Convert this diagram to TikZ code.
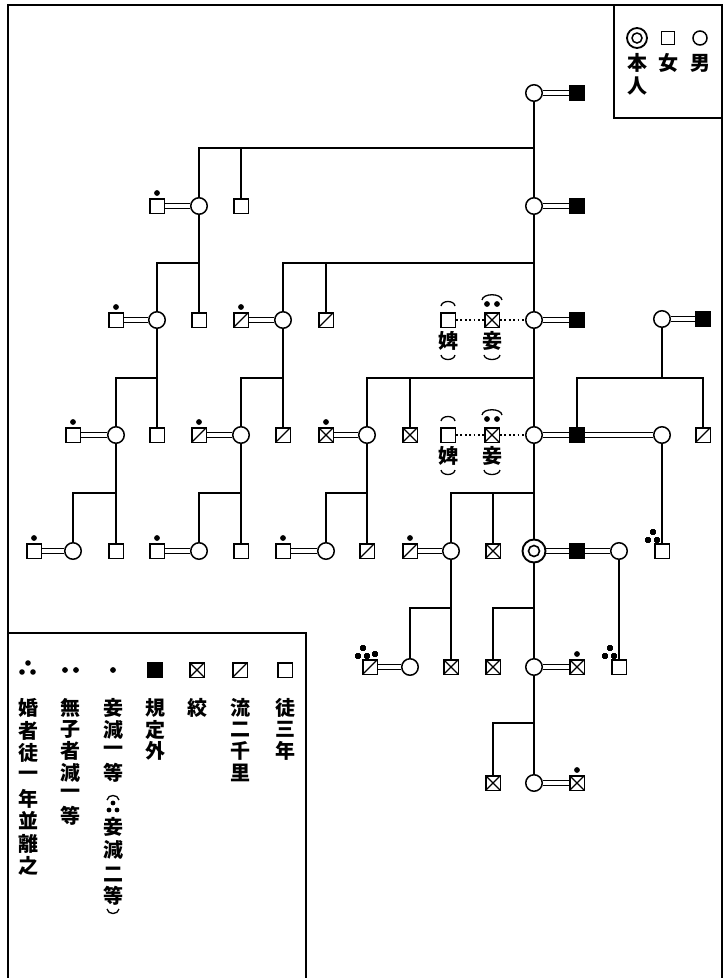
\documentclass[tikz,border=0pt]{standalone}
\usepackage{fontspec}
\newfontfamily\cjk{Noto Sans CJK JP}
\usetikzlibrary{backgrounds}
\newcommand\onedot[1]{\fill ([yshift=13pt]#1.center) circle (2.9pt);}
\newcommand\tridots[1]{\fill ([shift={(-9pt,19pt)}]#1.center) circle (2.8pt) ([shift={(-14pt,11pt)}]#1.center) circle (2.8pt) ([shift={(-5pt,11pt)}]#1.center) circle (2.8pt);}
\begin{document}
\begin{tikzpicture}[x=1pt,y=-1pt,
  ln/.style={line width=1.6pt},
  sqb/.style={rectangle, draw, line width=1.5pt, minimum size=14.5pt, inner sep=0pt, fill=white},
  slsq/.style={sqb, path picture={\draw[line width=1.3pt] (path picture bounding box.south west) -- (path picture bounding box.north east);}},
  xsq/.style={sqb, path picture={\draw[line width=1.2pt] (path picture bounding box.south west) -- (path picture bounding box.north east) (path picture bounding box.north west) -- (path picture bounding box.south east);}},
  bsq/.style={sqb, fill=black},
  ci/.style={circle, draw, line width=1.5pt, minimum size=16.5pt, inner sep=0pt, fill=white},
  mar/.style={draw, line width=1.3pt, double, double distance=3.2pt},
  dotl/.style={line width=1.6pt, dash pattern=on 1.8pt off 2.6pt},
  cj/.style={font=\cjk\bfseries\fontsize{20}{20}\selectfont, inner sep=0pt},
  pa/.style={line width=1.3pt}]
\useasboundingbox (0,0) rectangle (727,978);
% frame
\draw[line width=1.6pt] (8,978) -- (8,5) -- (722,5) -- (722,978);
\draw[line width=1.6pt] (614,5) -- (614,118) -- (722,118);
\draw[line width=1.6pt] (8,633) -- (306,633) -- (306,978);
% ---- nodes
% row 1
\node[ci] (c1a) at (534,93) {};
\node[bsq] (b1) at (577,93) {};
% row 2
\node[ci] (c2a) at (534,206) {};
\node[bsq] (b2) at (577,206) {};
\node[sqb] (s2a) at (157,206) {};
\node[ci] (c2b) at (199,206) {};
\node[sqb] (s2b) at (241,206) {};
% row 3
\node[sqb] (s3a) at (116,320) {};
\node[ci] (c3a) at (157,320) {};
\node[sqb] (s3b) at (199,320) {};
\node[slsq] (s3c) at (241,320) {};
\node[ci] (c3b) at (283,320) {};
\node[slsq] (s3d) at (326,320) {};
\node[sqb] (w3) at (448,320) {};
\node[xsq] (q3) at (492,320) {};
\node[ci] (c3m) at (534,320) {};
\node[bsq] (b3) at (577,320) {};
\node[ci] (c3r) at (662,319) {};
\node[bsq] (b3r) at (703,319) {};
% row 4
\node[sqb] (s4a) at (73,435) {};
\node[ci] (c4a) at (116,435) {};
\node[sqb] (s4b) at (157,435) {};
\node[slsq] (s4c) at (199,435) {};
\node[ci] (c4b) at (241,435) {};
\node[slsq] (s4d) at (283,435) {};
\node[xsq] (s4e) at (326,435) {};
\node[ci] (c4c) at (367,435) {};
\node[xsq] (s4f) at (410,435) {};
\node[sqb] (w4) at (448,435) {};
\node[xsq] (q4) at (492,435) {};
\node[ci] (c4m) at (534,435) {};
\node[bsq] (b4) at (577,435) {};
\node[ci] (c4r) at (662,435) {};
\node[slsq] (s4g) at (703,435) {};
% row 5
\node[sqb] (s5a) at (34,551) {};
\node[ci] (c5a) at (73,551) {};
\node[sqb] (s5b) at (116,551) {};
\node[sqb] (s5c) at (157,551) {};
\node[ci] (c5b) at (199,551) {};
\node[sqb] (s5d) at (241,551) {};
\node[sqb] (s5e) at (283,551) {};
\node[ci] (c5c) at (326,551) {};
\node[slsq] (s5f) at (367,551) {};
\node[slsq] (s5g) at (410,551) {};
\node[ci] (c5d) at (451,551) {};
\node[xsq] (s5h) at (493,551) {};
\node[ci, minimum size=23pt, line width=1.9pt] (self) at (534,551) {};
\node[bsq] (b5) at (577,551) {};
\node[ci] (c5r) at (619,551) {};
\node[sqb] (s5i) at (662,551) {};
% row 6
\node[slsq] (s6a) at (370,667) {};
\node[ci] (c6a) at (410,667) {};
\node[xsq] (s6b) at (451,667) {};
\node[xsq] (s6c) at (493,667) {};
\node[ci] (c6m) at (534,667) {};
\node[xsq] (s6d) at (577,667) {};
\node[sqb] (s6e) at (619,667) {};
% row 7
\node[xsq] (s7a) at (493,783) {};
\node[ci] (c7m) at (534,783) {};
\node[xsq] (s7b) at (577,783) {};
\draw[line width=1.6pt] (self.center) circle (5.5pt);
% bus coordinates
\coordinate (k1) at (534,148);
\coordinate (k2) at (199,263);
\coordinate (k3) at (534,263);
\coordinate (k4) at (157,378);
\coordinate (k5) at (283,378);
\coordinate (k6) at (534,378);
\coordinate (k7) at (662,378);
\coordinate (k8) at (116,493);
\coordinate (k9) at (241,493);
\coordinate (k10) at (367,493);
\coordinate (k11) at (534,493);
\coordinate (k13) at (451,608);
\coordinate (k14) at (534,608);
\coordinate (k16) at (534,723);
\begin{scope}[on background layer]
\draw[ln] (c1a) -- (c7m);
\draw[ln] (k1) -| (c2b); \draw[ln] (k1) -| (s2b);
\draw[ln] (c2b) -- (s3b); \draw[ln] (k2) -| (c3a);
\draw[ln] (k3) -| (c3b); \draw[ln] (k3) -| (s3d);
\draw[ln] (c3a) -- (s4b); \draw[ln] (k4) -| (c4a);
\draw[ln] (c3b) -- (s4d); \draw[ln] (k5) -| (c4b);
\draw[ln] (k6) -| (c4c); \draw[ln] (k6) -| (s4f);
\draw[ln] (c3r) -- (k7); \draw[ln] (b4) |- (k7) -| (s4g);
\draw[ln] (c4a) -- (s5b); \draw[ln] (k8) -| (c5a);
\draw[ln] (c4b) -- (s5d); \draw[ln] (k9) -| (c5b);
\draw[ln] (c4c) -- (s5f); \draw[ln] (k10) -| (c5c);
\draw[ln] (k11) -| (c5d); \draw[ln] (k11) -| (s5h);
\draw[ln] (c4r) -- (s5i);
\draw[ln] (c5d) -- (s6b); \draw[ln] (k13) -| (c6a);
\draw[ln] (k14) -| (s6c);
\draw[ln] (c5r) -- (s6e);
\draw[ln] (k16) -| (s7a);
% marriages
\foreach \a/\b in {s2a/c2b, c1a/b1, c2a/b2, s3a/c3a, s3c/c3b, c3m/b3, c3r/b3r, s4a/c4a, s4c/c4b, s4e/c4c, c4m/b4, b4/c4r, s5a/c5a, s5c/c5b, s5e/c5c, s5g/c5d, self/b5, b5/c5r, s6a/c6a, c6m/s6d, c7m/s7b}
  \draw[mar] (\a) -- (\b);
\draw[dotl] (w3) -- (q3) -- (c3m);
\draw[dotl] (w4) -- (q4) -- (c4m);
\end{scope}
% single dots
\foreach \n in {s2a, s3a, s3c, s4a, s4c, s4e, s5a, s5c, s5e, s5g, s6d, s7b}
  \onedot{\n}
\tridots{s5i}
\tridots{s6e}
\fill ([shift={(-7pt,19pt)}]s6a.center) circle (2.8pt) ([shift={(-12pt,11pt)}]s6a.center) circle (2.8pt) ([shift={(-3pt,11pt)}]s6a.center) circle (2.8pt) ([shift={(5pt,13pt)}]s6a.center) circle (2.8pt);
% concubine / maid annotations
\foreach \r/\q/\w in {0/q3/w3, 115/q4/w4}{
  \fill ([shift={(-5pt,16pt)}]\q.center) circle (2.9pt) ([shift={(5pt,16pt)}]\q.center) circle (2.9pt);
  \draw[pa] (441,306+\r) .. controls (442,300+\r) and (454,300+\r) .. (455,306+\r);
  \draw[pa] (441,355+\r) .. controls (442,361+\r) and (454,361+\r) .. (455,355+\r);
  \draw[pa] (482,300+\r) .. controls (483,293+\r) and (501,293+\r) .. (502,300+\r);
  \draw[pa] (484,355+\r) .. controls (485,361+\r) and (499,361+\r) .. (500,355+\r);
}
\node[cj] (tw3) at (448,341) {婢};
\node[cj] (tq3) at (492,341) {妾};
\node[cj] (tw4) at (448,456) {婢};
\node[cj] (tq4) at (492,456) {妾};
% top-right legend
\node[ci, minimum size=20pt, line width=1.8pt] (lself) at (637,38) {};
\draw[line width=1.5pt] (lself.center) circle (5pt);
\node[sqb, minimum size=13pt] (lsq) at (668,38) {};
\node[ci, minimum size=14pt] (lci) at (700,38) {};
\node[cj] (t1) at (637,63) {本};
\node[cj] (t2) at (637,86) {人};
\node[cj] (t3) at (668,63) {女};
\node[cj] (t4) at (700,63) {男};
% bottom-left legend symbols
\node[sqb] (g1) at (285,670) {};
\node[slsq] (g2) at (240,670) {};
\node[xsq] (g3) at (197,670) {};
\node[bsq] (g4) at (155,670) {};
\fill (113,670) circle (2.9pt);
\fill (65,670) circle (2.9pt) (76,670) circle (2.9pt);
\fill (28,663) circle (2.8pt) (22,672) circle (2.8pt) (33,672) circle (2.8pt);
% legend texts (vertical)
\foreach \ch [count=\i] in {徒,三,年} \node[cj] (ua\i) at (285,708+21.5*\i-21.5) {\ch};
\foreach \ch [count=\i] in {流,二,千,里} \node[cj] (ub\i) at (240,708+21.5*\i-21.5) {\ch};
\node[cj] (uc1) at (197,708) {絞};
\foreach \ch [count=\i] in {規,定,外} \node[cj] (ud\i) at (155,708+21.5*\i-21.5) {\ch};
\foreach \ch [count=\i] in {妾,減,一,等} \node[cj] (ue\i) at (113,708+21.5*\i-21.5) {\ch};
\draw[pa] (107,800) .. controls (108,794) and (118,794) .. (119,800);
\fill (113,803) circle (2.4pt) (109,810) circle (2.4pt) (117,810) circle (2.4pt);
\foreach \ch/\yy [count=\i] in {妾/827,減/850,二/874,等/896} \node[cj] (uf\i) at (113,\yy) {\ch};
\draw[pa] (107,909) .. controls (108,915) and (118,915) .. (119,909);
\foreach \ch [count=\i] in {無,子,者,減,一,等} \node[cj] (ug\i) at (70,708+21.5*\i-21.5) {\ch};
\foreach \ch [count=\i] in {婚,者,徒,一,年,並,離,之} \node[cj] (uh\i) at (28,708+22.6*\i-22.6) {\ch};
\end{tikzpicture}
\end{document}
